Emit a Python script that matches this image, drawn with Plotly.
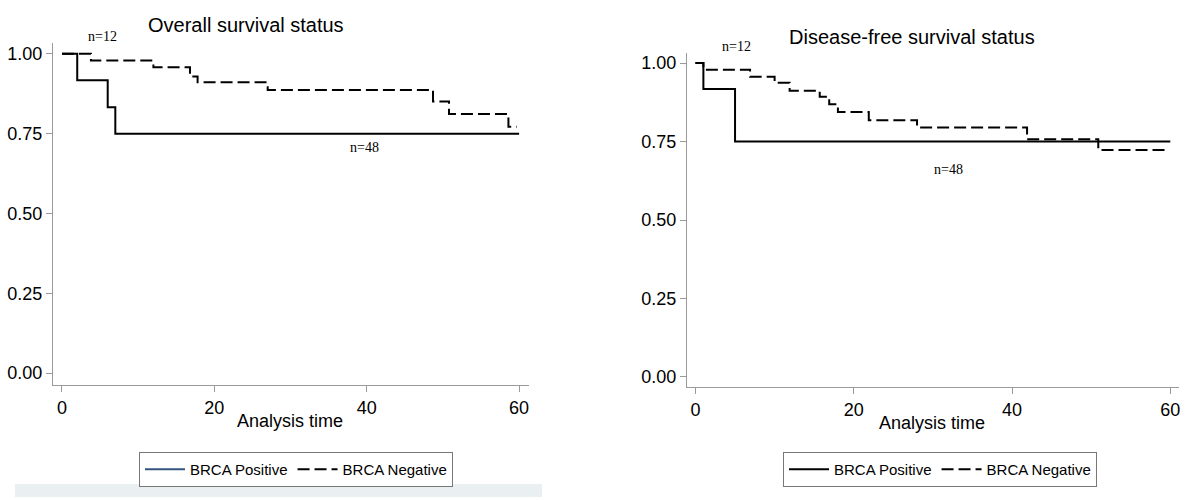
import plotly.graph_objects as go

# ---------------- data ----------------
# Overall survival (left panel)
os_pos_time = [0, 2, 6, 7, 60]
os_pos_surv = [1.0, 0.917, 0.833, 0.75, 0.75]
os_neg_time = [0, 3.8, 12, 16.8, 17.8, 27, 48.7, 50.8, 58.6, 59.7]
os_neg_surv = [1.0, 0.979, 0.958, 0.929, 0.911, 0.887, 0.851, 0.812, 0.772, 0.772]

# Disease-free survival (right panel)
dfs_pos_time = [0, 1, 5, 60]
dfs_pos_surv = [1.0, 0.917, 0.75, 0.75]
dfs_neg_time = [0, 1, 6.9, 10, 11.9, 15.7, 16.9, 18.0, 21.9, 28.0, 41.9, 50.9, 59.6]
dfs_neg_surv = [1.0, 0.979, 0.956, 0.937, 0.912, 0.893, 0.869, 0.844, 0.818,
                0.795, 0.757, 0.723, 0.723]

series_names = ["BRCA Positive", "BRCA Negative"]
panel_titles = ["Overall survival status", "Disease-free survival status"]
x_ticks = [0, 20, 40, 60]
y_ticks = [0, 0.25, 0.5, 0.75, 1.0]
x_title = "Analysis time"
n_labels = ["n=12", "n=48"]

# ---------------- styling ----------------
W, H = 1200, 500
SANS = "Liberation Sans Narrow, Arial Narrow, Liberation Sans, Arial, sans-serif"
SERIF = "Liberation Serif, Times New Roman, serif"
AXC = "#9a9a9a"
DASH = "12px,5px"


def px(x):
    return x / W


def py(y):
    return 1 - y / H


fig = go.Figure()

# left panel traces
fig.add_trace(go.Scatter(x=os_pos_time, y=os_pos_surv, mode="lines", line_shape="hv",
                         line=dict(color="black", width=2), showlegend=False,
                         xaxis="x", yaxis="y"))
fig.add_trace(go.Scatter(x=os_neg_time, y=os_neg_surv, mode="lines", line_shape="hv",
                         line=dict(color="black", width=2, dash=DASH), showlegend=False,
                         xaxis="x", yaxis="y"))
# left legend entries
fig.add_trace(go.Scatter(x=[None], y=[None], mode="lines", name=series_names[0],
                         line=dict(color="#34557f", width=2), legend="legend",
                         xaxis="x", yaxis="y"))
fig.add_trace(go.Scatter(x=[None], y=[None], mode="lines", name=series_names[1],
                         line=dict(color="black", width=2, dash=DASH), legend="legend",
                         xaxis="x", yaxis="y"))

# right panel traces
fig.add_trace(go.Scatter(x=dfs_pos_time, y=dfs_pos_surv, mode="lines", line_shape="hv",
                         line=dict(color="black", width=2), name=series_names[0],
                         legend="legend2", xaxis="x2", yaxis="y2"))
fig.add_trace(go.Scatter(x=dfs_neg_time, y=dfs_neg_surv, mode="lines", line_shape="hv",
                         line=dict(color="black", width=2, dash=DASH), name=series_names[1],
                         legend="legend2", xaxis="x2", yaxis="y2"))

axis_common = dict(showline=True, linecolor=AXC, linewidth=1, ticks="outside",
                   ticklen=6, tickcolor=AXC, showgrid=False, zeroline=False,
                   tickfont=dict(family=SANS, size=18, color="black"))

fig.update_layout(
    width=W, height=H,
    margin=dict(l=0, r=0, t=0, b=0),
    paper_bgcolor="white", plot_bgcolor="white",
    xaxis=dict(domain=[px(53), px(529)], range=[-1.18, 61.3], anchor="y",
               tickvals=x_ticks, **axis_common),
    yaxis=dict(domain=[py(385), py(43)], range=[-0.037, 1.034], anchor="x",
               tickvals=y_ticks, tickformat=".2f", **axis_common),
    xaxis2=dict(domain=[px(687), px(1179)], range=[-1.07, 61.1], anchor="y2",
                tickvals=x_ticks, **axis_common),
    yaxis2=dict(domain=[py(387), py(53)], range=[-0.032, 1.032], anchor="x2",
                tickvals=y_ticks, tickformat=".2f", **axis_common),
    legend=dict(orientation="h", x=px(296), xanchor="center", y=py(452), yanchor="top",
                bordercolor="#777", borderwidth=1, bgcolor="white",
                font=dict(family=SANS, size=15, color="black"), itemwidth=40),
    legend2=dict(orientation="h", x=px(940), xanchor="center", y=py(452), yanchor="top",
                 bordercolor="#777", borderwidth=1, bgcolor="white",
                 font=dict(family=SANS, size=15, color="black"), itemwidth=40),
    showlegend=True,
)

annotations = [
    dict(text=panel_titles[0], x=px(246), y=py(25), font=dict(family=SANS, size=20)),
    dict(text=panel_titles[1], x=px(912), y=py(37), font=dict(family=SANS, size=20)),
    dict(text=x_title, x=px(290), y=py(421), font=dict(family=SANS, size=18)),
    dict(text=x_title, x=px(932), y=py(423), font=dict(family=SANS, size=18)),
    dict(text=n_labels[0], x=px(102), y=py(37), font=dict(family=SERIF, size=14)),
    dict(text=n_labels[1], x=px(365), y=py(147), font=dict(family=SERIF, size=14)),
    dict(text=n_labels[0], x=px(736), y=py(47), font=dict(family=SERIF, size=14)),
    dict(text=n_labels[1], x=px(948), y=py(169), font=dict(family=SERIF, size=14)),
]
for a in annotations:
    a.update(xref="paper", yref="paper", showarrow=False, xanchor="center", yanchor="middle")
    a["font"]["color"] = "black"
fig.update_layout(annotations=annotations)

# light band under the left legend
fig.add_shape(type="rect", xref="paper", yref="paper", x0=px(15), x1=px(542),
              y0=py(497), y1=py(484), fillcolor="#eaf0f1", line=dict(width=0), layer="below")

fig.write_html("out.html", config={"displayModeBar": False},
               post_script="document.body.style.margin='0';document.body.style.overflow='hidden';")
